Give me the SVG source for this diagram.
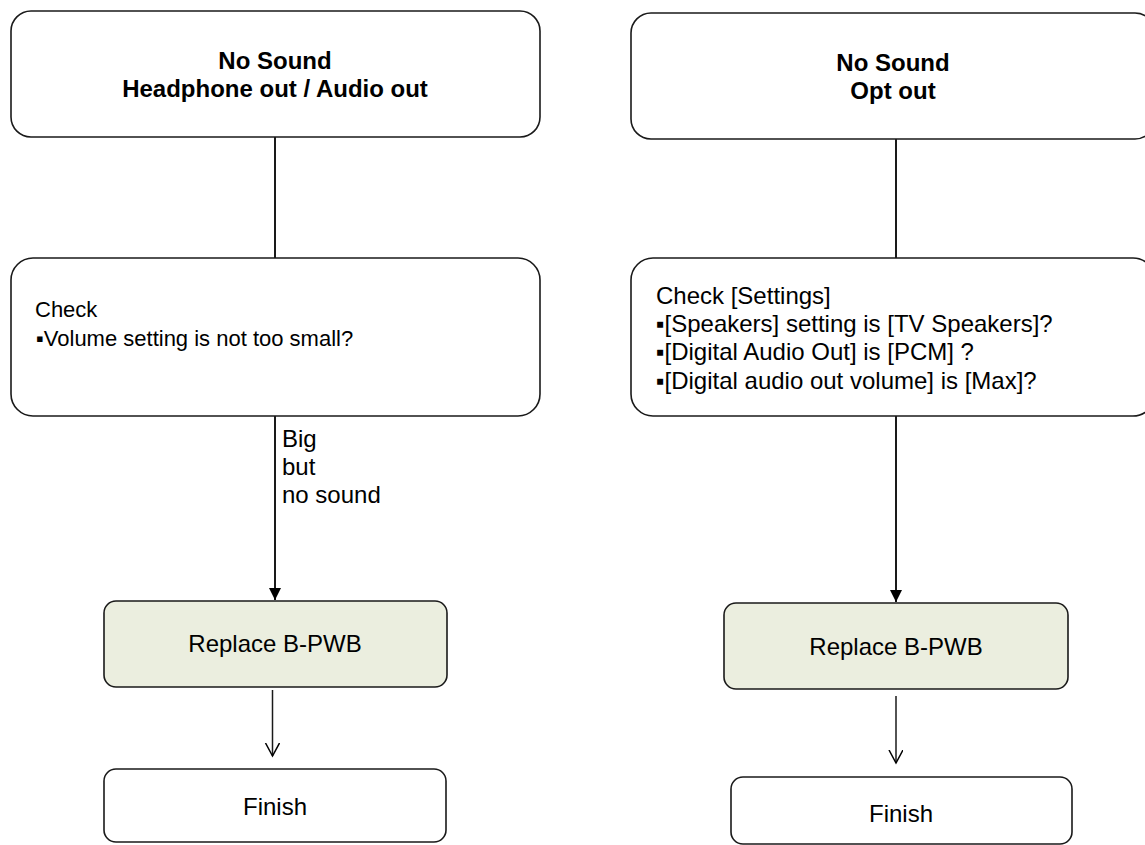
<svg xmlns="http://www.w3.org/2000/svg" width="1145" height="845" viewBox="0 0 1145 845">
<style>
.box{fill:#fff;stroke:#1a1a1a;stroke-width:1.6}
.act{fill:#ebeedf;stroke:#1a1a1a;stroke-width:1.6}
.t{font-family:"Liberation Sans",Arial,sans-serif;font-size:24px;fill:#000}
.s{font-size:22px}
.b{font-weight:bold}
.c{text-anchor:middle}
.ln{stroke:#1a1a1a;stroke-width:2;fill:none}
.ln2{stroke:#1a1a1a;stroke-width:1.5;fill:none}
</style>
<defs>
<marker id="fill" markerUnits="userSpaceOnUse" markerWidth="14" markerHeight="14" refX="12" refY="6" orient="auto">
<path d="M0,0 L12,6 L0,12 Z" fill="#000"/>
</marker>
<marker id="open" markerUnits="userSpaceOnUse" markerWidth="16" markerHeight="16" refX="13" refY="7" orient="auto">
<path d="M0,0 L13,7 L0,14" fill="none" stroke="#000" stroke-width="1.5"/>
</marker>
</defs>
<g id="connectors">
<line class="ln" x1="275" y1="137" x2="275" y2="258"/>
<line class="ln" x1="275" y1="416" x2="275" y2="600" marker-end="url(#fill)"/>
<line class="ln2" x1="272.5" y1="690" x2="272.5" y2="756" marker-end="url(#open)"/>
<line class="ln" x1="896" y1="139" x2="896" y2="258"/>
<line class="ln" x1="896" y1="416" x2="896" y2="602" marker-end="url(#fill)"/>
<line class="ln2" x1="896" y1="696" x2="896" y2="763" marker-end="url(#open)"/>
<g id="label-big">
<text class="t" x="282" y="447">Big</text>
<text class="t" x="282" y="475">but</text>
<text class="t" x="282" y="503">no sound</text>
</g>
</g>
<g id="start-left">
<rect class="box" x="11" y="11" width="529" height="126" rx="20"/>
<text class="t b c" x="275" y="69">No Sound</text>
<text class="t b c" x="275" y="97">Headphone out / Audio out</text>
</g>
<g id="check-left">
<rect class="box" x="11" y="258" width="529" height="158" rx="22"/>
<text class="t s" x="35" y="317">Check</text>
<text class="t s" x="36" y="346">▪Volume setting is not too small?</text>
</g>
<g id="replace-left">
<rect class="act" x="104" y="601" width="343" height="86" rx="12"/>
<text class="t c" x="275" y="652">Replace B-PWB</text>
</g>
<g id="finish-left">
<rect class="box" x="104" y="769" width="342" height="73" rx="12"/>
<text class="t c" x="275" y="815">Finish</text>
</g>
<g id="start-right">
<rect class="box" x="631" y="13" width="524" height="126" rx="20"/>
<text class="t b c" x="893" y="71">No Sound</text>
<text class="t b c" x="893" y="99">Opt out</text>
</g>
<g id="check-right">
<rect class="box" x="631" y="258" width="524" height="158" rx="22"/>
<text class="t" x="656" y="304">Check [Settings]</text>
<text class="t" x="656" y="332">▪[Speakers] setting is [TV Speakers]?</text>
<text class="t" x="656" y="360">▪[Digital Audio Out] is [PCM] ?</text>
<text class="t" x="656" y="389">▪[Digital audio out volume] is [Max]?</text>
</g>
<g id="replace-right">
<rect class="act" x="724" y="603" width="344" height="86" rx="12"/>
<text class="t c" x="896" y="655">Replace B-PWB</text>
</g>
<g id="finish-right">
<rect class="box" x="731" y="777" width="341" height="67" rx="12"/>
<text class="t c" x="901" y="822">Finish</text>
</g>
</svg>
